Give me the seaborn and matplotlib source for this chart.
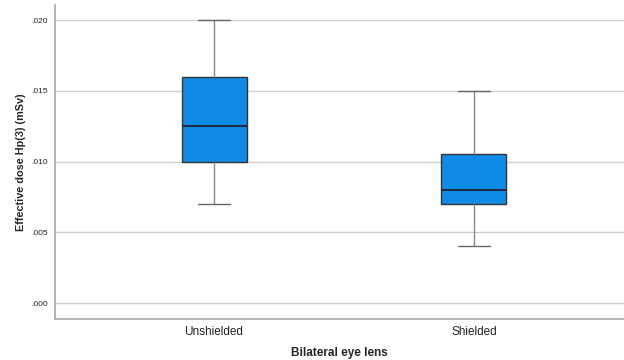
import numpy as np
import pandas as pd
import matplotlib
matplotlib.use('Agg')
import matplotlib.pyplot as plt
import matplotlib.ticker as mticker
import seaborn as sns

# five-number summaries (min, Q1, median, Q3, max)
groups = ['Unshielded', 'Shielded']
unshielded = [0.007, 0.010, 0.0125, 0.016, 0.020]
shielded = [0.004, 0.007, 0.008, 0.0105, 0.015]
y_ticks = [0.000, 0.005, 0.010, 0.015, 0.020]

df = pd.DataFrame({
    'group': [groups[0]] * len(unshielded) + [groups[1]] * len(shielded),
    'dose': unshielded + shielded,
})

sns.set_style('white')
plt.rcParams['font.family'] = ['Liberation Sans', 'DejaVu Sans']

fig = plt.figure(figsize=(6.24, 3.6), dpi=100)
ax = fig.add_axes([0.088, 0.115, 0.912, 0.871])

sns.boxplot(data=df, x='group', y='dose', order=groups, width=0.25,
            color='#118ce6', saturation=1, ax=ax,
            boxprops=dict(edgecolor='#333333', linewidth=1),
            medianprops=dict(color='#1b2a45', linewidth=1.5),
            whiskerprops=dict(color='#888888', linewidth=1),
            capprops=dict(color='#666666', linewidth=1),
            capwidths=0.125)

ax.set_ylim(-0.0011, 0.02106)
ax.set_xlim(-0.612, 1.577)
ax.set_yticks(y_ticks)
ax.yaxis.set_major_formatter(mticker.FuncFormatter(lambda v, p: f'{v:.3f}'.lstrip('0')))
ax.yaxis.grid(True, color='#cfcfcf', linewidth=1)
ax.set_axisbelow(True)
ax.tick_params(axis='both', length=0)
ax.tick_params(axis='y', labelsize=6, colors='#222222', pad=5)
ax.tick_params(axis='x', labelsize=8.5, colors='#222222', pad=5)

for side in ['top', 'right']:
    ax.spines[side].set_visible(False)
for side in ['left', 'bottom']:
    ax.spines[side].set_color('#a8a8a8')
    ax.spines[side].set_linewidth(1.2)

ax.set_ylabel('Effective dose Hp(3) (mSv)', fontsize=7.8, fontweight='bold', labelpad=4)
ax.set_xlabel('Bilateral eye lens', fontsize=8.5, fontweight='bold', labelpad=7)

fig.savefig('out.png', dpi=100)
